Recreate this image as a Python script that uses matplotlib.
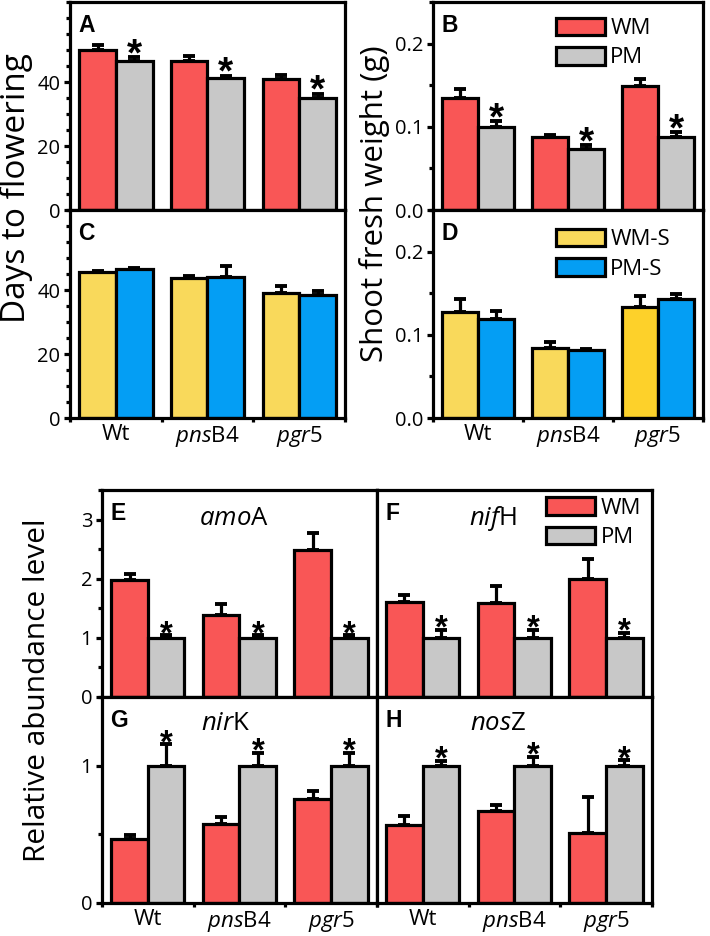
import numpy as np
import matplotlib
matplotlib.use("Agg")
import matplotlib.pyplot as plt
from matplotlib.ticker import FixedLocator, NullLocator, MultipleLocator, FormatStrFormatter
from matplotlib.textpath import TextPath
from matplotlib.font_manager import FontProperties

plt.rcParams['font.family'] = ['Open Sans', 'DejaVu Sans']
plt.rcParams['mathtext.fontset'] = 'custom'
plt.rcParams['mathtext.rm'] = 'Open Sans'
plt.rcParams['mathtext.it'] = 'Open Sans:italic'

# ---------------- data ----------------
genotypes = ['Wt', r'$\mathit{pns}$B4', r'$\mathit{pgr}$5']

# A: days to flowering
A_WM = [50.0, 46.7, 40.8]
A_WM_err = [1.5, 1.4, 1.5]
A_PM = [46.7, 41.1, 35.1]
A_PM_err = [1.0, 0.9, 1.3]
# C: days to flowering (sterilized)
C_WMS = [45.5, 43.8, 39.0]
C_WMS_err = [0.4, 0.5, 2.1]
C_PMS = [46.5, 44.2, 38.3]
C_PMS_err = [0.4, 3.4, 1.4]
# B: shoot fresh weight
B_WM = [0.1345, 0.0876, 0.1485]
B_WM_err = [0.0115, 0.0024, 0.0085]
B_PM = [0.100, 0.0729, 0.0876]
B_PM_err = [0.0065, 0.005, 0.006]
# D: shoot fresh weight (sterilized)
D_WMS = [0.1277, 0.0843, 0.1337]
D_WMS_err = [0.0148, 0.0067, 0.0133]
D_PMS = [0.119, 0.0823, 0.1425]
D_PMS_err = [0.010, 0.001, 0.0065]
# E-H: relative abundance
E_WM = [1.98, 1.385, 2.48]
E_WM_err = [0.10, 0.195, 0.29]
E_PM = [1.0, 1.0, 1.0]
E_PM_err = [0.05, 0.05, 0.05]
F_WM = [1.60, 1.59, 2.0]
F_WM_err = [0.13, 0.285, 0.33]
F_PM = [1.0, 1.0, 1.0]
F_PM_err = [0.14, 0.14, 0.09]
G_WM = [0.465, 0.576, 0.76]
G_WM_err = [0.03, 0.05, 0.058]
G_PM = [1.0, 1.0, 1.0]
G_PM_err = [0.157, 0.094, 0.094]
H_WM = [0.569, 0.67, 0.513]
H_WM_err = [0.065, 0.044, 0.261]
H_PM = [1.0, 1.0, 1.0]
H_PM_err = [0.036, 0.065, 0.04]

days_ticks = [0, 20, 40]
weight_ticks = [0.0, 0.1, 0.2]
abund_ticks_top = [0, 1, 2, 3]
abund_ticks_bot = [0, 1]

RED = '#F95656'
GRAY = '#C8C8C8'
YEL = '#F9D95B'
YEL2 = '#FDD12A'
BLUE = '#049EF4'

LW = 2.3
W = 0.4

fig = plt.figure(figsize=(7.1, 9.36), dpi=100)
FW, FH = 710.0, 936.0

STAR_FP = FontProperties(family='Liberation Sans', weight='bold')
_sp = TextPath((0, 0), '*', size=1, prop=STAR_FP).get_extents()
STAR_W = _sp.width
STAR_Y0 = _sp.y0


def mkax(x0, y0, x1, y1):
    return fig.add_axes([x0 / FW, 1 - y1 / FH, (x1 - x0) / FW, (y1 - y0) / FH])


def style(ax, ylim, majors, minor, fmt, show_y=True, show_x=False, xtick_dots=False):
    ax.set_xlim(-0.5, 2.5)
    ax.set_ylim(*ylim)
    for s in ax.spines.values():
        s.set_linewidth(LW)
    ax.xaxis.set_major_locator(FixedLocator([0, 1, 2]))
    if xtick_dots:
        ax.xaxis.set_minor_locator(FixedLocator([-0.5, 0.5, 1.5, 2.5]))
    else:
        ax.xaxis.set_minor_locator(NullLocator())
    ax.tick_params(axis='x', which='major', length=0, pad=4, labelsize=16)
    ax.tick_params(axis='x', which='minor', length=3, width=LW, direction='out')
    if show_x:
        ax.set_xticklabels(genotypes)
    else:
        ax.set_xticklabels([])
    if show_y:
        ax.yaxis.set_major_locator(FixedLocator(majors))
        ax.yaxis.set_minor_locator(MultipleLocator(minor))
        ax.yaxis.set_major_formatter(FormatStrFormatter(fmt))
        ax.tick_params(axis='y', which='both', direction='out', width=LW, labelsize=14.5, pad=3)
        ax.tick_params(axis='y', which='major', length=4)
        ax.tick_params(axis='y', which='minor', length=3)
    else:
        ax.yaxis.set_major_locator(NullLocator())
        ax.yaxis.set_minor_locator(NullLocator())


def bars(ax, v1, e1, c1, v2, e2, c2, lab1=None, lab2=None):
    x = np.arange(len(v1))
    ekw = dict(ecolor='black', elinewidth=LW, capsize=4, capthick=2.8, zorder=4)
    ax.bar(x - W / 2, v1, W, color=c1, edgecolor='black', linewidth=LW,
           yerr=[np.zeros(len(v1)), e1], error_kw=ekw, label=lab1, zorder=2)
    ax.bar(x + W / 2, v2, W, color=c2, edgecolor='black', linewidth=LW,
           yerr=[np.zeros(len(v2)), e2], error_kw=ekw, label=lab2, zorder=2)
    return x


def stars(ax, x, v, e, width_pt, gap_pt):
    fs = width_pt / STAR_W
    for xi, vi, ei in zip(x, v, e):
        ax.annotate('*', xy=(xi + W / 2, vi + ei), xytext=(0, gap_pt - STAR_Y0 * fs),
                    textcoords='offset points', ha='center', va='baseline',
                    fontsize=fs, fontproperties=STAR_FP, zorder=5)


def letter(ax, s, x=0.03, y=0.94):
    ax.text(x, y, s, transform=ax.transAxes, ha='left', va='top', fontsize=16.5,
            fontweight='bold', family='Liberation Sans')


def legend(ax, x, y):
    ax.legend(loc='upper left', bbox_to_anchor=(x, y), frameon=False, fontsize=16,
              handlelength=2.2, handleheight=0.85, handletextpad=0.25,
              labelspacing=0.35, borderpad=0, borderaxespad=0)


TOP_STAR = (10.8, 2.9)
BOT_STAR = (9.2, 1.6)

# ---- A ----
axA = mkax(70, 2, 345, 210)
x = bars(axA, A_WM, A_WM_err, RED, A_PM, A_PM_err, GRAY)
style(axA, (0, 65), days_ticks, 5, '%d')
stars(axA, x, A_PM, A_PM_err, *TOP_STAR)
letter(axA, 'A')

# ---- C ----
axC = mkax(70, 210, 345, 418)
x = bars(axC, C_WMS, C_WMS_err, YEL, C_PMS, C_PMS_err, BLUE)
style(axC, (0, 65), days_ticks, 5, '%d', show_x=True, xtick_dots=True)
letter(axC, 'C')

# ---- B ----
axB = mkax(433, 2, 703, 210)
x = bars(axB, B_WM, B_WM_err, RED, B_PM, B_PM_err, GRAY, 'WM', 'PM')
style(axB, (0, 0.25), weight_ticks, 0.05, '%.1f')
stars(axB, x, B_PM, B_PM_err, *TOP_STAR)
letter(axB, 'B')
legend(axB, 0.455, 0.925)

# ---- D ----
axD = mkax(433, 210, 703, 418)
x = bars(axD, D_WMS, D_WMS_err, [YEL, YEL, YEL2], D_PMS, D_PMS_err, BLUE, 'WM-S', 'PM-S')
style(axD, (0, 0.25), weight_ticks, 0.05, '%.1f', show_x=True, xtick_dots=True)
letter(axD, 'D')
legend(axD, 0.455, 0.91)

# ---- E ----
axE = mkax(102, 490, 377, 697)
x = bars(axE, E_WM, E_WM_err, RED, E_PM, E_PM_err, GRAY)
style(axE, (0, 3.5), abund_ticks_top, 0.5, '%d')
stars(axE, x, E_PM, E_PM_err, *BOT_STAR)
letter(axE, 'E')
axE.text(0.48, 0.86, r'$\mathit{amo}$A', transform=axE.transAxes, ha='center', va='center', fontsize=18.5)

# ---- F ----
axF = mkax(377, 490, 652, 697)
x = bars(axF, F_WM, F_WM_err, RED, F_PM, F_PM_err, GRAY, 'WM', 'PM')
style(axF, (0, 3.5), abund_ticks_top, 0.5, '%d', show_y=False)
stars(axF, x, F_PM, F_PM_err, *BOT_STAR)
letter(axF, 'F')
axF.text(0.42, 0.86, r'$\mathit{nif}$H', transform=axF.transAxes, ha='center', va='center', fontsize=18.5)
legend(axF, 0.615, 0.965)

# ---- G ----
axG = mkax(102, 697, 377, 903)
x = bars(axG, G_WM, G_WM_err, RED, G_PM, G_PM_err, GRAY)
style(axG, (0, 1.5), abund_ticks_bot, 0.5, '%d', show_x=True, xtick_dots=True)
stars(axG, x, G_PM, G_PM_err, *BOT_STAR)
letter(axG, 'G')
axG.text(0.45, 0.87, r'$\mathit{nir}$K', transform=axG.transAxes, ha='center', va='center', fontsize=18.5)

# ---- H ----
axH = mkax(377, 697, 652, 903)
x = bars(axH, H_WM, H_WM_err, RED, H_PM, H_PM_err, GRAY)
style(axH, (0, 1.5), abund_ticks_bot, 0.5, '%d', show_y=False, show_x=True, xtick_dots=True)
stars(axH, x, H_PM, H_PM_err, *BOT_STAR)
letter(axH, 'H')
axH.text(0.44, 0.87, r'$\mathit{nos}$Z', transform=axH.transAxes, ha='center', va='center', fontsize=18.5)

# ---- y labels ----
fig.text(16 / FW, 1 - 188 / FH, 'Days to flowering', rotation=90, ha='center', va='center', fontsize=24)
fig.text(375 / FW, 1 - 204 / FH, 'Shoot fresh weight (g)', rotation=90, ha='center', va='center', fontsize=22.5)
fig.text(38 / FW, 1 - 690 / FH, 'Relative abundance level', rotation=90, ha='center', va='center', fontsize=21.5)

fig.savefig('out.png', dpi=100)
